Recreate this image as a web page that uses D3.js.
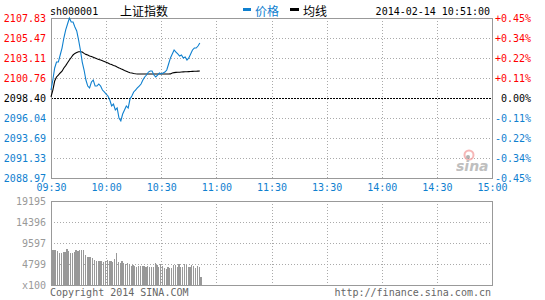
<!DOCTYPE html>
<html>
<head>
<meta charset="utf-8">
<script src="https://cdn.jsdelivr.net/npm/d3@7"></script>
<style>
body { margin: 0; background: #fff; }
text { font-family: "DejaVu Sans Mono", monospace; font-size: 10px; }
.cjk { font-family: "Noto Sans CJK SC", sans-serif; font-size: 12px; }
</style>
</head>
<body>
<svg id="chart" width="545" height="300"></svg>
<script>
// header info
var symbol = "sh000001";
var indexName = "上证指数";
var stamp = "2014-02-14 10:51:00";
var legendNames = ["价格", "均线"];

// axis labels
var timeLabels = ["09:30", "10:00", "10:30", "11:00", "11:30", "13:30", "14:00", "14:30", "15:00"];
var priceTicks = [2107.83, 2105.47, 2103.11, 2100.76, 2098.40, 2096.04, 2093.69, 2091.33, 2088.97];
var pctLabels = ["+0.45%", "+0.34%", "+0.22%", "+0.11%", "0.00%", "-0.11%", "-0.22%", "-0.34%", "-0.45%"];
var volTicks = [19195, 14396, 9597, 4799];
var prevClose = 2098.40;

// one value per minute from 09:30 to 10:51
var price = [
  2099.34, 2100.52, 2101.94, 2102.64, 2102.64, 2103.47, 2104.29, 2105.47, 2106.42, 2107.12,
  2107.83, 2107.36, 2107.36, 2106.77, 2106.30, 2105.24, 2104.06, 2102.64, 2101.70, 2100.52,
  2099.81, 2099.58, 2100.29, 2100.52, 2099.81, 2099.81, 2100.05, 2099.81, 2099.34, 2099.11,
  2098.87, 2098.64, 2098.16, 2097.46, 2097.69, 2096.99, 2097.22, 2096.04, 2095.69, 2096.51,
  2096.99, 2097.46, 2097.22, 2098.28, 2098.64, 2099.11, 2099.34, 2099.58, 2099.81, 2100.05,
  2100.52, 2100.88, 2101.11, 2101.46, 2101.58, 2101.58, 2101.11, 2100.88, 2101.11, 2101.35,
  2101.23, 2101.35, 2101.46, 2101.70, 2102.41, 2103.12, 2103.59, 2104.06, 2103.82, 2103.59,
  2103.35, 2103.47, 2103.12, 2103.23, 2102.88, 2103.12, 2103.59, 2104.06, 2104.29, 2104.29,
  2104.53, 2104.88
];
var avgPrice = [
  2098.52, 2099.34, 2100.40, 2100.88, 2101.11, 2101.35, 2101.55, 2101.94, 2102.22, 2102.55,
  2102.88, 2103.17, 2103.47, 2103.66, 2103.76, 2103.86, 2103.86, 2103.82, 2103.66, 2103.54,
  2103.47, 2103.35, 2103.28, 2103.20, 2103.12, 2103.02, 2102.95, 2102.88, 2102.80, 2102.71,
  2102.62, 2102.53, 2102.41, 2102.34, 2102.24, 2102.16, 2102.05, 2101.95, 2101.84, 2101.75,
  2101.64, 2101.56, 2101.46, 2101.38, 2101.34, 2101.29, 2101.25, 2101.23, 2101.23, 2101.23,
  2101.23, 2101.23, 2101.23, 2101.23, 2101.23, 2101.23, 2101.23, 2101.23, 2101.23, 2101.23,
  2101.23, 2101.23, 2101.23, 2101.23, 2101.23, 2101.24, 2101.35, 2101.39, 2101.42, 2101.43,
  2101.44, 2101.46, 2101.48, 2101.49, 2101.50, 2101.51, 2101.52, 2101.54, 2101.55, 2101.56,
  2101.57, 2101.58
];
var volume = [
  8000, 8000, 8000, 7770, 7390, 7240, 7540, 7540, 8150, 7770,
  7240, 7390, 7540, 8000, 7850, 8000, 8000, 8000, 6860, 6470,
  6320, 6320, 6090, 5710, 5560, 5560, 5480, 5480, 5330, 5560,
  5710, 5480, 5410, 5260, 6020, 7310, 5260, 5100, 5410, 5100,
  4800, 5100, 4800, 4340, 4490, 4340, 4190, 4340, 4340, 4340,
  4340, 4190, 4340, 4190, 4190, 4190, 5100, 4490, 4190, 4800,
  4340, 3880, 3730, 4190, 3880, 3880, 4490, 4650, 4040, 4800,
  4190, 4190, 4800, 4490, 4190, 4040, 4490, 4340, 3880, 4340,
  4190, 1900
];

var BLUE = "#0f80cf", RED = "#ff0000", GRID = "#aaaaaa", EDGE = "#999999";
var LEFT = 51, RIGHT = 492, TOP = 18, BOTTOM = 178, VTOP = 201, VBOTTOM = 285;

const svg = d3.select("#chart");

const x = d3.scaleLinear().domain([0, 240]).range([LEFT, RIGHT]);
const y = d3.scaleLinear().domain([priceTicks[8], priceTicks[0]]).range([BOTTOM, TOP]);
const yv = d3.scaleLinear().domain([0, volTicks[0]]).range([VBOTTOM, VTOP]);
const timeTicks = timeLabels.map((d, i) => i * 30);
const px = v => Math.round(v) + 0.5;

// gridlines, price panel
const grid = svg.append("g").attr("stroke", GRID).attr("stroke-dasharray", "1,2");
priceTicks.slice(1, 8).forEach(t => {
  if (t === prevClose) return;
  grid.append("line").attr("x1", LEFT).attr("x2", RIGHT).attr("y1", px(y(t))).attr("y2", px(y(t)));
});
timeTicks.slice(1, 8).forEach(t => {
  grid.append("line").attr("x1", px(x(t))).attr("x2", px(x(t))).attr("y1", TOP).attr("y2", BOTTOM);
});
// gridlines, volume panel
volTicks.slice(1).forEach(t => {
  grid.append("line").attr("x1", LEFT).attr("x2", RIGHT).attr("y1", px(yv(t))).attr("y2", px(yv(t)));
});
timeTicks.slice(1, 8).forEach(t => {
  grid.append("line").attr("x1", px(x(t))).attr("x2", px(x(t))).attr("y1", VTOP).attr("y2", VBOTTOM);
});

// previous close line
svg.append("line").attr("x1", LEFT).attr("x2", RIGHT).attr("y1", px(y(prevClose))).attr("y2", px(y(prevClose)))
  .attr("stroke", "#000").attr("stroke-dasharray", "2,1");

// sina watermark
const wm = svg.append("g").attr("opacity", 0.75);
wm.append("circle").attr("cx", 469).attr("cy", 155).attr("r", 4.5).attr("fill", "none").attr("stroke", "#f4a0a0").attr("stroke-width", 2);
wm.append("circle").attr("cx", 468).attr("cy", 157).attr("r", 2).attr("fill", "#999");
wm.append("text").attr("x", 456).attr("y", 171).attr("fill", "#aaa").style("font-family", "DejaVu Sans")
  .style("font-size", "14px").style("font-style", "italic").style("font-weight", "bold").text("sina");

// volume bars
svg.append("g").selectAll("rect").data(volume).enter().append("rect")
  .attr("x", (d, i) => x(i) + 0.6).attr("y", d => yv(d)).attr("width", 1.2)
  .attr("height", d => VBOTTOM - yv(d)).attr("fill", "#999").attr("shape-rendering", "crispEdges");

// panel borders
svg.append("rect").attr("x", LEFT + 0.5).attr("y", TOP + 0.5).attr("width", RIGHT - LEFT).attr("height", BOTTOM - TOP)
  .attr("fill", "none").attr("stroke", EDGE);
svg.append("rect").attr("x", LEFT + 0.5).attr("y", VTOP + 0.5).attr("width", RIGHT - LEFT).attr("height", VBOTTOM - VTOP)
  .attr("fill", "none").attr("stroke", EDGE);

// lines
const line = d3.line().x((d, i) => x(i)).y(d => y(d));
svg.append("path").datum(avgPrice).attr("d", line).attr("fill", "none").attr("stroke", "#000").attr("stroke-width", 1.1);
svg.append("path").datum(price).attr("d", line).attr("fill", "none").attr("stroke", BLUE).attr("stroke-width", 1.1);

// left price axis
const leftAxis = svg.append("g").attr("transform", "translate(" + (LEFT - 5) + ",0)")
  .call(d3.axisLeft(y).tickValues(priceTicks).tickFormat(d3.format(".2f")).tickSize(0).tickPadding(0));
leftAxis.select(".domain").remove();
leftAxis.selectAll("text").attr("fill", d => d > prevClose ? RED : (d < prevClose ? BLUE : "#000"))
  .style("font-size", "10px").style("font-family", "DejaVu Sans Mono");

// right percent axis
const rightAxis = svg.append("g").attr("transform", "translate(531,0)")
  .call(d3.axisLeft(y).tickValues(priceTicks).tickFormat((d, i) => pctLabels[i]).tickSize(0).tickPadding(0));
rightAxis.select(".domain").remove();
rightAxis.selectAll("text").attr("fill", d => d > prevClose ? RED : (d < prevClose ? BLUE : "#000"))
  .style("font-size", "10px").style("font-family", "DejaVu Sans Mono");

// time axis
const timeAxis = svg.append("g").attr("transform", "translate(0," + (BOTTOM + 4) + ")")
  .call(d3.axisBottom(x).tickValues(timeTicks).tickFormat((d, i) => timeLabels[i]).tickSize(0).tickPadding(2));
timeAxis.select(".domain").remove();
timeAxis.selectAll("text").attr("fill", BLUE).style("font-size", "10px").style("font-family", "DejaVu Sans Mono");

// volume axis
const volAxis = svg.append("g").attr("transform", "translate(" + (LEFT - 5) + ",0)")
  .call(d3.axisLeft(yv).tickValues([0].concat(volTicks)).tickFormat(d => d === 0 ? "x100" : d).tickSize(0).tickPadding(0));
volAxis.select(".domain").remove();
volAxis.selectAll("text").attr("fill", "#999").style("font-size", "10px").style("font-family", "DejaVu Sans Mono");

// header
svg.append("text").attr("x", 50).attr("y", 15).attr("fill", "#000").text(symbol);
svg.append("text").attr("class", "cjk").attr("x", 120).attr("y", 16).attr("fill", "#000").text(indexName);
svg.append("rect").attr("x", 243).attr("y", 8).attr("width", 8).attr("height", 3).attr("fill", BLUE);
svg.append("text").attr("class", "cjk").attr("x", 255).attr("y", 16).attr("fill", BLUE).text(legendNames[0]);
svg.append("rect").attr("x", 290).attr("y", 8).attr("width", 9).attr("height", 3).attr("fill", "#000");
svg.append("text").attr("class", "cjk").attr("x", 303).attr("y", 16).attr("fill", "#000").text(legendNames[1]);
svg.append("text").attr("x", 490).attr("y", 15).attr("text-anchor", "end").attr("fill", "#000").text(stamp);

// footer
svg.append("text").attr("x", 50).attr("y", 296).attr("fill", "#666").text("Copyright 2014 SINA.COM");
svg.append("text").attr("x", 491).attr("y", 296).attr("text-anchor", "end").attr("fill", "#666").text("http://finance.sina.com.cn");
</script>
</body>
</html>
